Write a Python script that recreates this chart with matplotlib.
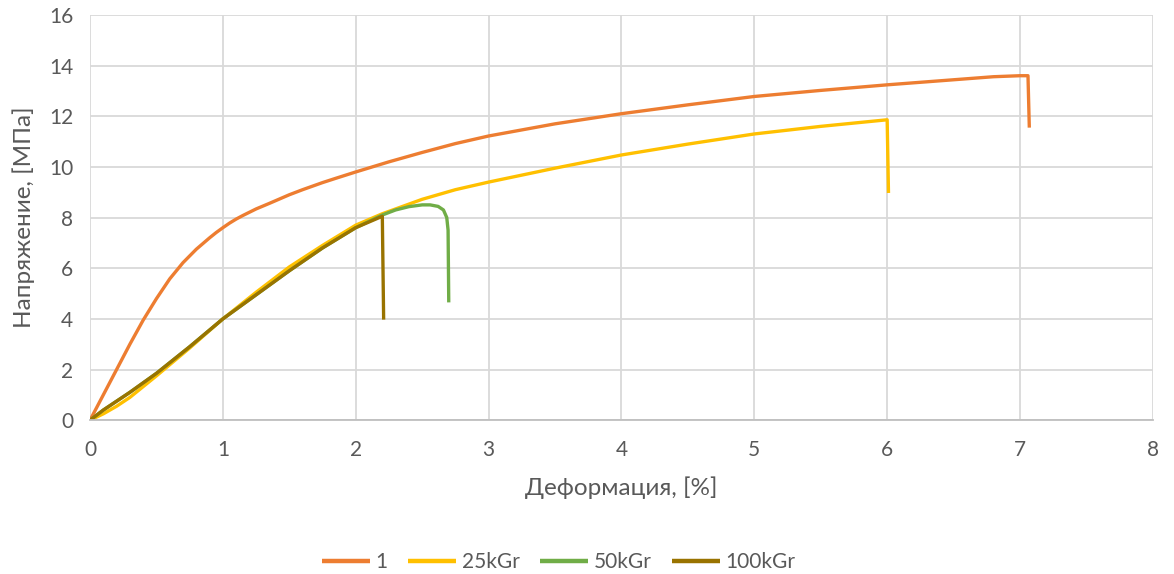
import matplotlib.pyplot as plt

# strain [%] / stress [MPa]
x_1 = [0, 0.1, 0.2, 0.3, 0.4, 0.5, 0.6, 0.7, 0.8, 0.9, 0.95, 1.0, 1.05, 1.1, 1.15, 1.25,
       1.35, 1.5, 1.6, 1.75, 1.85, 2.0, 2.25, 2.5, 2.75, 3.0, 3.5, 4.0, 4.5, 5.0, 5.5,
       6.0, 6.5, 6.8, 7.0, 7.06, 7.07]
y_1 = [0, 1.0, 2.0, 3.0, 3.95, 4.8, 5.58, 6.22, 6.75, 7.2, 7.41, 7.6, 7.78, 7.94, 8.08, 8.34,
       8.56, 8.9, 9.1, 9.38, 9.55, 9.8, 10.2, 10.57, 10.92, 11.22, 11.7, 12.1, 12.45, 12.78, 13.02,
       13.24, 13.44, 13.56, 13.6, 13.6, 11.55]

x_25 = [0, 0.1, 0.2, 0.3, 0.5, 0.75, 1.0, 1.25, 1.5, 1.75, 2.0, 2.2, 2.5, 2.75,
        3.0, 3.5, 4.0, 4.5, 5.0, 5.5, 6.0, 6.01]
y_25 = [0, 0.25, 0.55, 0.9, 1.75, 2.85, 4.0, 5.05, 6.05, 6.9, 7.7, 8.15, 8.72, 9.1,
        9.4, 9.95, 10.47, 10.9, 11.3, 11.6, 11.86, 8.97]

x_50 = [0, 0.1, 0.2, 0.3, 0.5, 0.75, 1.0, 1.25, 1.5, 1.75, 2.0, 2.2, 2.3, 2.4,
        2.5, 2.56, 2.62, 2.66, 2.685, 2.695, 2.7]
y_50 = [0, 0.4, 0.75, 1.1, 1.85, 2.9, 4.0, 4.95, 5.9, 6.8, 7.6, 8.1, 8.3, 8.43,
        8.5, 8.5, 8.44, 8.3, 8.0, 7.5, 4.65]

x_100 = [0, 0.1, 0.2, 0.3, 0.5, 0.75, 1.0, 1.25, 1.5, 1.75, 2.0, 2.2, 2.21]
y_100 = [0, 0.4, 0.75, 1.1, 1.85, 2.9, 4.0, 4.95, 5.9, 6.8, 7.6, 8.05, 3.97]

labels = ['1', '25kGr', '50kGr', '100kGr']
colors = ['#ED7D31', '#FFC000', '#70AD47', '#997300']

plt.rcParams['font.family'] = ['Lato', 'DejaVu Sans']

fig = plt.figure(figsize=(11.74, 5.74), dpi=100)
ax = fig.add_axes([0.0767, 0.268, 0.9053, 0.706])

series = [(x_1, y_1), (x_25, y_25), (x_50, y_50), (x_100, y_100)]
for (xs, ys), lab, col in zip(series, labels, colors):
    ax.plot(xs, ys, color=col, lw=2.4, label=lab, solid_capstyle='butt')

ax.set_xlim(0, 8)
ax.set_ylim(0, 16)
ax.set_xticks(range(0, 9))
ax.set_yticks(range(0, 17, 2))
ax.grid(True, color='#D9D9D9', lw=1.3)
ax.set_axisbelow(True)
for s in ['top', 'right', 'left']:
    ax.spines[s].set_visible(False)
ax.spines['bottom'].set_color('#BFBFBF')
ax.spines['bottom'].set_linewidth(1.3)
ax.tick_params(length=0, labelsize=15, colors='#595959')
ax.tick_params(axis='x', pad=14)
ax.tick_params(axis='y', pad=12)

ax.set_xlabel('Деформация, [%]', fontsize=17.5, color='#595959', labelpad=12)
ax.set_ylabel('Напряжение, [МПа]', fontsize=17.5, color='#595959', labelpad=10)

leg = fig.legend(loc='lower center', bbox_to_anchor=(0.476, -0.03), ncol=4, frameon=False,
                 fontsize=15, handlelength=2.3, handletextpad=0.25, columnspacing=1.0,
                 labelcolor='#595959')
for line in leg.get_lines():
    line.set_linewidth(3.2)

fig.savefig('out.png', dpi=100)
